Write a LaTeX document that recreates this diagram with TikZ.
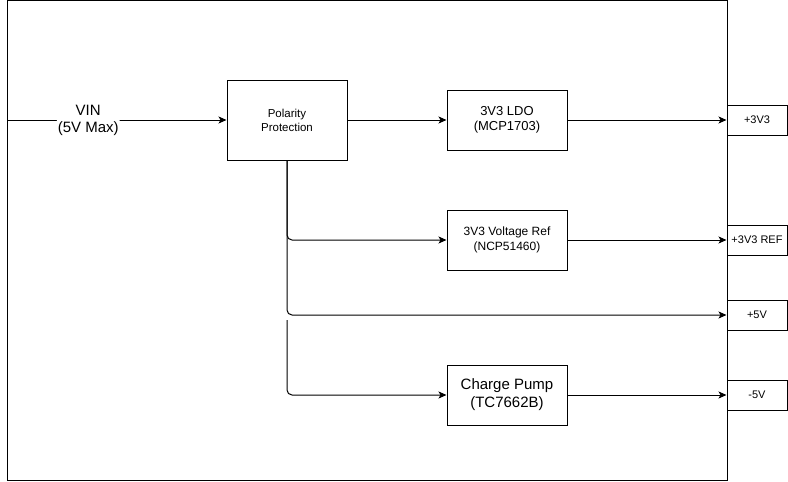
\documentclass[tikz,border=0pt]{standalone}
\usepackage{fontspec}
\setmainfont{Liberation Sans}
\usetikzlibrary{arrows.meta}
\tikzset{
  block/.style={draw, line width=1pt, align=center, minimum width=120pt,
    minimum height=60pt, inner sep=0pt},
  outbox/.style={draw, line width=1pt, minimum width=60pt, minimum height=30pt,
    inner sep=0pt, font=\fontsize{11}{13}\selectfont},
  wire/.style={line width=1pt, rounded corners=5pt,
    -{Stealth[length=8pt,width=7pt,inset=2pt]}}
}
\begin{document}
\begin{tikzpicture}[x=1pt,y=-1pt]
  \useasboundingbox (0,0) rectangle (788,482);
  % board outline
  \draw [line width=1pt] (7,0.5) rectangle (727,480);
  \coordinate (vin) at (7,120);
  \coordinate (split) at (287,320);
  % blocks
  \node [block, minimum height=80pt, font=\fontsize{11.5}{14}\selectfont] (polarity) at (287,120) {Polarity\\Protection};
  \node [block, font=\fontsize{13}{15.6}\selectfont] (ldo) at (507,120) {3V3 LDO\\(MCP1703)};
  \node [block, font=\fontsize{12}{14.4}\selectfont] (vref) at (507,240) {3V3 Voltage Ref\\(NCP51460)};
  \node [block, font=\fontsize{15}{18}\selectfont] (pump) at (507,395) {Charge Pump\\(TC7662B)};
  % outputs
  \node [outbox] (out33) at (757,120) {+3V3};
  \node [outbox] (out33ref) at (757,240) {+3V3 REF};
  \node [outbox] (out5) at (757,315) {+5V};
  \node [outbox] (outm5) at (757,395) {-5V};
  % wires
  \draw [wire] (vin) -- node [pos=0.37, fill=white, inner sep=1pt, align=center,
    font=\fontsize{15}{17}\selectfont] {VIN\\(5V Max)} (polarity);
  \draw [wire] (polarity) -- (ldo);
  \draw [wire] (ldo) -- (out33);
  \draw [wire] (polarity.south) |- (vref);
  \draw [wire] (vref) -- (out33ref);
  \draw [wire] (polarity.south) |- (out5);
  \draw [wire] (split) |- (pump);
  \draw [wire] (pump) -- (outm5);
\end{tikzpicture}
\end{document}
